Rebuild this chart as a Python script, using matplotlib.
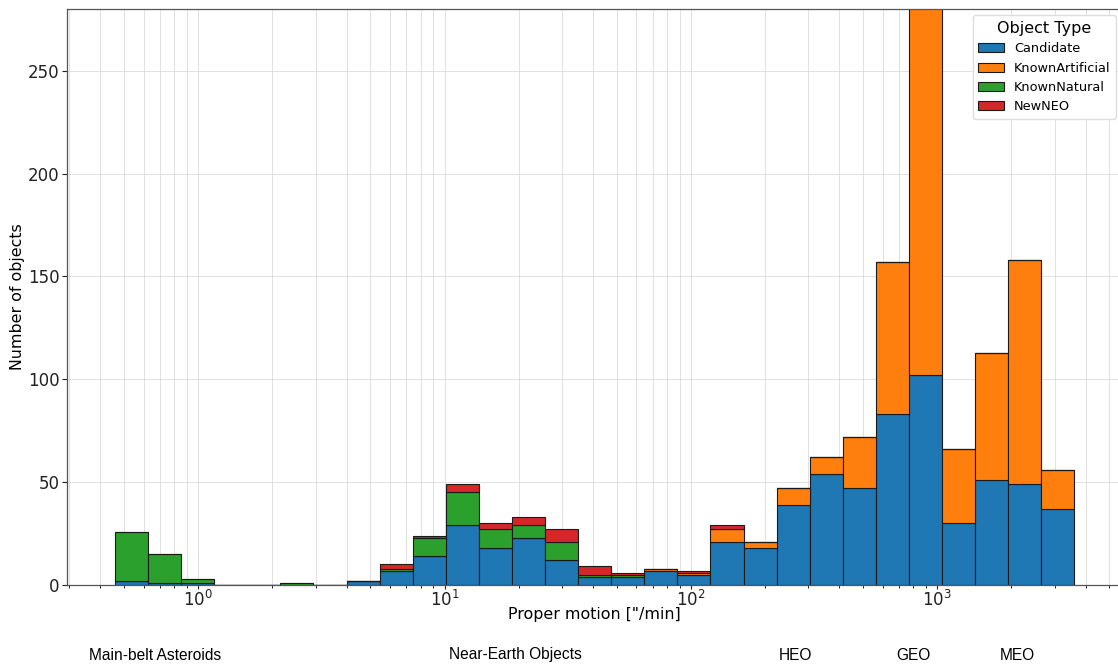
import numpy as np
import matplotlib
matplotlib.use('Agg')
import matplotlib.pyplot as plt

# proper-motion range covered by the histogram ("/min), 29 log bins
pm_min = 0.459
pm_max = 3603.0
n_bins = 29

# counts per bin, stacked bottom to top
candidate = [2, 1, 1, 0, 0, 0, 0, 2, 7, 14, 29, 18, 23, 12, 4,
             4, 7, 5, 21, 18, 39, 54, 47, 83, 102, 30, 51, 49, 37]
known_artificial = [0, 0, 0, 0, 0, 0, 0, 0, 0, 0, 0, 0, 0, 0, 0,
                    0, 1, 1, 6, 3, 8, 8, 25, 74, 190, 36, 62, 109, 19]
known_natural = [24, 14, 2, 0, 0, 1, 0, 0, 1, 9, 16, 9, 6, 9, 1,
                 1, 0, 0, 0, 0, 0, 0, 0, 0, 0, 0, 0, 0, 0]
new_neo = [0, 0, 0, 0, 0, 0, 0, 0, 2, 1, 4, 3, 4, 6, 4,
           1, 0, 1, 2, 0, 0, 0, 0, 0, 0, 0, 0, 0, 0]

labels = ['Candidate', 'KnownArtificial', 'KnownNatural', 'NewNEO']
colors = ['#1f77b4', '#ff7f0e', '#2ca02c', '#d62728']

regions = ['Main-belt Asteroids', 'Near-Earth Objects', 'HEO', 'GEO', 'MEO']
region_x = [155, 515, 795, 913, 1017]  # pixel centres under the axis


def main():
    W, H = 1118, 664
    fig = plt.figure(figsize=(W / 100, H / 100), dpi=100)
    ax = fig.add_axes([67 / W, (H - 585) / H, (1122.3 - 67) / W, (585 - 9) / H])

    edges = np.logspace(np.log10(pm_min), np.log10(pm_max), n_bins + 1)
    widths = np.diff(edges)
    bottom = np.zeros(n_bins)
    for series, lab, col in zip([candidate, known_artificial, known_natural, new_neo],
                                labels, colors):
        vals = np.array(series, dtype=float)
        ax.bar(edges[:-1], vals, width=widths, bottom=bottom, align='edge',
               color=col, edgecolor='#1a1a1a', linewidth=0.8, label=lab)
        bottom += vals

    ax.set_xscale('log')
    ax.set_ylim(0, 280)
    ax.set_yticks([0, 50, 100, 150, 200, 250])

    ax.grid(True, which='both', axis='x', color='#dcdcdc', ls='-', lw=0.6)
    ax.grid(True, which='major', axis='y', color='#dcdcdc', ls='-', lw=0.6)
    ax.set_axisbelow(True)

    for side in ['left', 'bottom', 'top', 'right']:
        ax.spines[side].set_color('#555555')
        ax.spines[side].set_linewidth(0.9)

    ax.tick_params(axis='both', which='major', labelsize=12, colors='#222222',
                   length=3.5, width=0.8, pad=2)
    ax.tick_params(axis='x', which='major', length=3, pad=0.5)
    ax.tick_params(axis='x', which='minor', length=2, width=0.6)

    ax.set_xlabel('Proper motion ["/min]', fontsize=11.4, va='top')
    ax.xaxis.set_label_coords(0.5, -0.039)
    ax.set_ylabel('Number of objects', fontsize=11.4)
    ax.yaxis.set_label_coords(-0.0398, 0.5)

    leg = ax.legend(title='Object Type', loc='upper right', fontsize=9.3,
                    title_fontsize=11.5, framealpha=1.0)
    leg.get_frame().set_edgecolor('#dddddd')

    for txt, px in zip(regions, region_x):
        fig.text(px / W, (H - 655) / H, txt, ha='center', va='center',
                 fontsize=11.2, family='Liberation Sans')

    fig.savefig('out.png', dpi=100)
    plt.close(fig)


if __name__ == '__main__':
    main()
